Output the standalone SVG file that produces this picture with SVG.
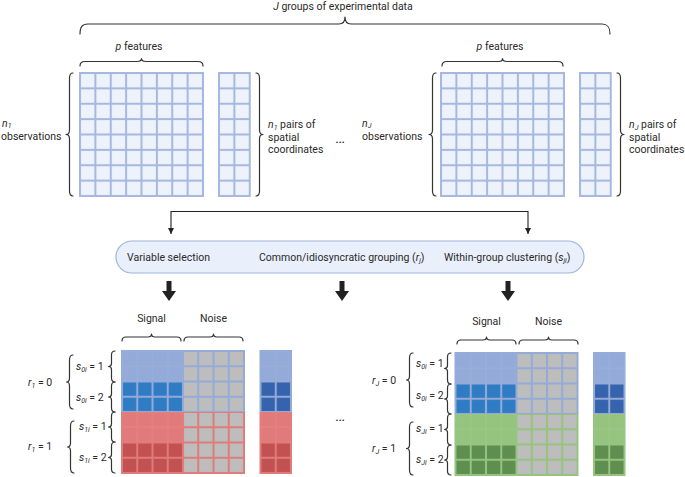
<svg xmlns="http://www.w3.org/2000/svg" width="685" height="477" viewBox="0 0 685 477">
<style>
text{font-family:Roboto,"Liberation Sans",sans-serif;font-size:10.5px;fill:#2a2a2a}
.i{font-style:italic}
.sub{font-size:7px;font-style:italic}
.dots{font-size:15px}
.brace{fill:none;stroke:#333;stroke-width:1.2;stroke-linecap:round;stroke-linejoin:round}
.conn{fill:none;stroke:#222;stroke-width:1.1}
</style>
<defs>
<marker id="ah" viewBox="0 0 6 6" refX="6" refY="3" markerWidth="6" markerHeight="6" markerUnits="userSpaceOnUse" orient="auto-start-reverse"><path d="M0,0 L6,3 L0,6 z" fill="#222"/></marker>
<pattern id="pT" width="15.375" height="15.375" patternUnits="userSpaceOnUse"><rect width="15.375" height="15.375" fill="#a6b8df"/><rect x="1" y="1" width="13.375" height="13.375" fill="#edf2fb"/></pattern>
<pattern id="pTC" width="15.375" height="15.375" patternUnits="userSpaceOnUse"><rect width="15.375" height="15.375" fill="#a6b8df"/><rect x="1" y="1" width="13.375" height="13.375" fill="#edf2fb"/></pattern>
<pattern id="pBL" width="15.25" height="15.25" patternUnits="userSpaceOnUse"><rect width="15.25" height="15.25" fill="#9db1dc"/><rect x="0.4" y="0.4" width="14.45" height="14.45" fill="#94aad8"/></pattern>
<pattern id="pBD" width="15.25" height="15.25" patternUnits="userSpaceOnUse"><rect width="15.25" height="15.25" fill="#94aad8"/><rect x="1" y="1" width="13.25" height="13.25" fill="#2f7cc4"/></pattern>
<pattern id="pBN" width="15.25" height="15.25" patternUnits="userSpaceOnUse"><rect width="15.25" height="15.25" fill="#94aad8"/><rect x="1" y="1" width="13.25" height="13.25" fill="#bdbdbd"/></pattern>
<pattern id="pBC" width="15.25" height="15.25" patternUnits="userSpaceOnUse"><rect width="15.25" height="15.25" fill="#94aad8"/><rect x="1" y="1" width="13.25" height="13.25" fill="#3563ad"/></pattern>
<pattern id="pRL" width="15.25" height="15.25" patternUnits="userSpaceOnUse"><rect width="15.25" height="15.25" fill="#e58686"/><rect x="0.4" y="0.4" width="14.45" height="14.45" fill="#e17b7b"/></pattern>
<pattern id="pRD" width="15.25" height="15.25" patternUnits="userSpaceOnUse"><rect width="15.25" height="15.25" fill="#e17b7b"/><rect x="1" y="1" width="13.25" height="13.25" fill="#c25152"/></pattern>
<pattern id="pRN" width="15.25" height="15.25" patternUnits="userSpaceOnUse"><rect width="15.25" height="15.25" fill="#e17b7b"/><rect x="1" y="1" width="13.25" height="13.25" fill="#bdbdbd"/></pattern>
<pattern id="pGL" width="15.25" height="15.25" patternUnits="userSpaceOnUse"><rect width="15.25" height="15.25" fill="#9ecb89"/><rect x="0.4" y="0.4" width="14.45" height="14.45" fill="#95c47f"/></pattern>
<pattern id="pGD" width="15.25" height="15.25" patternUnits="userSpaceOnUse"><rect width="15.25" height="15.25" fill="#95c47f"/><rect x="1" y="1" width="13.25" height="13.25" fill="#5f8e51"/></pattern>
<pattern id="pGN" width="15.25" height="15.25" patternUnits="userSpaceOnUse"><rect width="15.25" height="15.25" fill="#95c47f"/><rect x="1" y="1" width="13.25" height="13.25" fill="#bdbdbd"/></pattern>
</defs>
<rect width="685" height="477" fill="#ffffff"/>

<g id="title">
<text x="343" y="10" text-anchor="middle"><tspan class="i">J</tspan> groups of experimental data</text>
<path class="brace" d="M80,34 C80,27 82,24 88,24 L339,24 C343,24 345,21 345,17 C345,21 347,24 351,24 L602,24 C608,24 610,27 610,34"/>
</g>

<g id="group-1">
<text x="139" y="50" text-anchor="middle"><tspan class="i">p</tspan> features</text>
<path class="brace" d="M80,66 C80,63 81,61.5 85,61.5 L137,61.5 C140,61.5 141.5,60.5 141.5,58.5 C141.5,60.5 143,61.5 146,61.5 L198,61.5 C202,61.5 203,63 203,66"/>
<g transform="translate(80,73)"><rect x="-1" y="-1" width="125" height="125" fill="#a6b8df"/><rect width="123" height="123" fill="url(#pT)"/></g>
<g transform="translate(219,73)"><rect x="-1" y="-1" width="32.75" height="125" fill="#a6b8df"/><rect width="30.75" height="123" fill="url(#pTC)"/></g>
<path class="brace" d="M73,73 C70,73 69.5,75 69.5,78 L69.5,130 C69.5,133 68,134.5 66,134.5 C68,134.5 69.5,136 69.5,139 L69.5,191 C69.5,194 70,196 73,196"/>
<path class="brace" d="M256,73 C259,73 259.5,75 259.5,78 L259.5,130 C259.5,133 261,134.5 263,134.5 C261,134.5 259.5,136 259.5,139 L259.5,191 C259.5,194 259,196 256,196"/>
<text x="2" y="126.5"><tspan class="i">n</tspan><tspan class="sub" dy="1.5">1</tspan></text>
<text x="1" y="140">observations</text>
<text x="268" y="128"><tspan class="i">n</tspan><tspan class="sub" dy="1.5">1</tspan><tspan dy="-1.5"> pairs of</tspan></text>
<text x="268" y="141">spatial</text>
<text x="268" y="153">coordinates</text>
</g>

<text class="dots" x="335" y="143">…</text>

<g id="group-J">
<text x="500" y="50" text-anchor="middle"><tspan class="i">p</tspan> features</text>
<path class="brace" d="M442,66 C442,63 443,61.5 447,61.5 L499,61.5 C502,61.5 502.5,60.5 502.5,58.5 C502.5,60.5 504,61.5 507,61.5 L558,61.5 C562,61.5 563,63 563,66"/>
<g transform="translate(441,73)"><rect x="-1" y="-1" width="125" height="125" fill="#a6b8df"/><rect width="123" height="123" fill="url(#pT)"/></g>
<g transform="translate(580,73)"><rect x="-1" y="-1" width="32.75" height="125" fill="#a6b8df"/><rect width="30.75" height="123" fill="url(#pTC)"/></g>
<path class="brace" d="M436,73 C433,73 432.5,75 432.5,78 L432.5,130 C432.5,133 431,134.5 429,134.5 C431,134.5 432.5,136 432.5,139 L432.5,191 C432.5,194 433,196 436,196"/>
<path class="brace" d="M617,73 C620,73 620.5,75 620.5,78 L620.5,130 C620.5,133 622,134.5 624,134.5 C622,134.5 620.5,136 620.5,139 L620.5,191 C620.5,194 620,196 617,196"/>
<text x="362" y="126.5"><tspan class="i">n</tspan><tspan class="sub" dy="1.5">J</tspan></text>
<text x="362" y="140">observations</text>
<text x="629" y="128"><tspan class="i">n</tspan><tspan class="sub" dy="1.5">J</tspan><tspan dy="-1.5"> pairs of</tspan></text>
<text x="629" y="141">spatial</text>
<text x="629" y="153">coordinates</text>
</g>

<g id="model">
<rect x="116" y="241" width="468" height="32" rx="16" fill="#e9f0fb" stroke="#9fb4dc" stroke-width="1.2"/>
<text x="127" y="261">Variable selection</text>
<text x="259" y="261">Common/idiosyncratic grouping (<tspan class="i">r</tspan><tspan class="sub" dy="2">j</tspan><tspan dy="-2">)</tspan></text>
<text x="444" y="261">Within-group clustering (<tspan class="i">s</tspan><tspan class="sub" dy="2">ji</tspan><tspan dy="-2">)</tspan></text>
</g>

<g id="connectors">
<path class="conn" d="M171,234 L171,211.5 L528,211.5 L528,234" marker-start="url(#ah)" marker-end="url(#ah)"/>
<path d="M166.5,281 h5 v10 h4.5 l-7,10 l-7,-10 h4.5 z" fill="#222"/>
<path d="M339.5,281 h5 v10 h4.5 l-7,10 l-7,-10 h4.5 z" fill="#222"/>
<path d="M505.5,281 h5 v10 h4.5 l-7,10 l-7,-10 h4.5 z" fill="#222"/>
</g>

<g id="result-1">
<text x="151.5" y="322" text-anchor="middle">Signal</text>
<text x="213.5" y="322" text-anchor="middle">Noise</text>
<path class="brace" d="M122,341 C122,338 123,337 126,337 L148,337 C150.5,337 151.5,336 151.5,334 C151.5,336 152.5,337 155,337 L177,337 C180,337 181,338 181,341"/>
<path class="brace" d="M184,341 C184,338 185,337 188,337 L210,337 C212.5,337 213.5,336 213.5,334 C213.5,336 214.5,337 217,337 L239,337 C242,337 243,338 243,341"/>
<g transform="translate(122,351)">
<rect x="-1" y="-1" width="124" height="62" fill="#94aad8"/>
<rect x="-1" y="61" width="124" height="62" fill="#e17b7b"/>
<rect width="61" height="30.5" fill="url(#pBL)"/>
<rect y="30.5" width="61" height="30.5" fill="url(#pBD)"/>
<rect x="61" width="61" height="61" fill="url(#pBN)"/>
<rect y="61" width="61" height="30.5" fill="url(#pRL)"/>
<rect y="91.5" width="61" height="30.5" fill="url(#pRD)"/>
<rect x="61" y="61" width="61" height="61" fill="url(#pRN)"/>
</g>
<g transform="translate(260.5,351)">
<rect x="-1" y="-1" width="32.5" height="62" fill="#94aad8"/>
<rect x="-1" y="61" width="32.5" height="62" fill="#e17b7b"/>
<rect width="30.5" height="30.5" fill="url(#pBL)"/>
<rect y="30.5" width="30.5" height="30.5" fill="url(#pBC)"/>
<rect y="61" width="30.5" height="30.5" fill="url(#pRL)"/>
<rect y="91.5" width="30.5" height="30.5" fill="url(#pRD)"/>
</g>
<path class="brace" d="M73,355 C70,355 69.5,357 69.5,360 L69.5,378 C69.5,380.5 68.5,382 66.5,382 C68.5,382 69.5,383.5 69.5,386 L69.5,404 C69.5,407 70,409 73,409"/>
<path class="brace" d="M74,421 C71,421 70.5,423 70.5,426 L70.5,443 C70.5,445.5 69.5,447 67.5,447 C69.5,447 70.5,448.5 70.5,451 L70.5,468 C70.5,471 71,473 74,473"/>
<path class="brace" d="M115,351 C112.5,351 111.5,352.5 111.5,355 L111.5,363.5 C111.5,365.5 110.5,366.5 108.5,366.5 C110.5,366.5 111.5,367.5 111.5,369.5 L111.5,378 C111.5,380.5 112.5,382 115,382"/>
<path class="brace" d="M115,382 C112.5,382 111.5,383.5 111.5,386 L111.5,394 C111.5,396 110.5,397 108.5,397 C110.5,397 111.5,398 111.5,400 L111.5,408 C111.5,410.5 112.5,412 115,412"/>
<path class="brace" d="M115,412 C112.5,412 111.5,413.5 111.5,416 L111.5,424 C111.5,426 110.5,427 108.5,427 C110.5,427 111.5,428 111.5,430 L111.5,438 C111.5,440.5 112.5,442 115,442"/>
<path class="brace" d="M115,442 C112.5,442 111.5,443.5 111.5,446 L111.5,454.5 C111.5,456.5 110.5,457.5 108.5,457.5 C110.5,457.5 111.5,458.5 111.5,460.5 L111.5,469 C111.5,471.5 112.5,473 115,473"/>
<text x="28" y="386"><tspan class="i">r</tspan><tspan class="sub" dy="2">1</tspan><tspan dy="-2"> = 0</tspan></text>
<text x="28" y="450"><tspan class="i">r</tspan><tspan class="sub" dy="2">1</tspan><tspan dy="-2"> = 1</tspan></text>
<text x="76" y="370"><tspan class="i">s</tspan><tspan class="sub" dy="2">0i</tspan><tspan dy="-2"> = 1</tspan></text>
<text x="76" y="401"><tspan class="i">s</tspan><tspan class="sub" dy="2">0i</tspan><tspan dy="-2"> = 2</tspan></text>
<text x="79" y="430"><tspan class="i">s</tspan><tspan class="sub" dy="2">1i</tspan><tspan dy="-2"> = 1</tspan></text>
<text x="79" y="461"><tspan class="i">s</tspan><tspan class="sub" dy="2">1i</tspan><tspan dy="-2"> = 2</tspan></text>
</g>

<text class="dots" x="335" y="421">…</text>

<g id="result-J">
<text x="486.5" y="325" text-anchor="middle">Signal</text>
<text x="548.5" y="325" text-anchor="middle">Noise</text>
<path class="brace" d="M457,344 C457,341 458,340 461,340 L483,340 C485.5,340 486.5,339 486.5,337 C486.5,339 487.5,340 490,340 L512,340 C515,340 516,341 516,344"/>
<path class="brace" d="M519,344 C519,341 520,340 523,340 L545,340 C547.5,340 548.5,339 548.5,337 C548.5,339 549.5,340 552,340 L574,340 C577,340 578,341 578,344"/>
<g transform="translate(455.5,353)">
<rect x="-1" y="-1" width="124" height="62" fill="#94aad8"/>
<rect x="-1" y="61" width="124" height="62" fill="#95c47f"/>
<rect width="61" height="30.5" fill="url(#pBL)"/>
<rect y="30.5" width="61" height="30.5" fill="url(#pBD)"/>
<rect x="61" width="61" height="61" fill="url(#pBN)"/>
<rect y="61" width="61" height="30.5" fill="url(#pGL)"/>
<rect y="91.5" width="61" height="30.5" fill="url(#pGD)"/>
<rect x="61" y="61" width="61" height="61" fill="url(#pGN)"/>
</g>
<g transform="translate(594,353)">
<rect x="-1" y="-1" width="32.5" height="62" fill="#94aad8"/>
<rect x="-1" y="61" width="32.5" height="62" fill="#95c47f"/>
<rect width="30.5" height="30.5" fill="url(#pBL)"/>
<rect y="30.5" width="30.5" height="30.5" fill="url(#pBC)"/>
<rect y="61" width="30.5" height="30.5" fill="url(#pGL)"/>
<rect y="91.5" width="30.5" height="30.5" fill="url(#pGD)"/>
</g>
<path class="brace" d="M413,353 C410,353 409.5,355 409.5,358 L409.5,376 C409.5,378.5 408.5,380 406.5,380 C408.5,380 409.5,381.5 409.5,384 L409.5,402 C409.5,405 410,407 413,407"/>
<path class="brace" d="M413,422 C410,422 409.5,424 409.5,427 L409.5,444.5 C409.5,447 408.5,448.5 406.5,448.5 C408.5,448.5 409.5,450 409.5,452.5 L409.5,470 C409.5,473 410,475 413,475"/>
<path class="brace" d="M451,353 C448.5,353 447.5,354.5 447.5,357 L447.5,365.5 C447.5,367.5 446.5,368.5 444.5,368.5 C446.5,368.5 447.5,369.5 447.5,371.5 L447.5,380 C447.5,382.5 448.5,384 451,384"/>
<path class="brace" d="M451,384 C448.5,384 447.5,385.5 447.5,388 L447.5,396 C447.5,398 446.5,399 444.5,399 C446.5,399 447.5,400 447.5,402 L447.5,410 C447.5,412.5 448.5,414 451,414"/>
<path class="brace" d="M451,414 C448.5,414 447.5,415.5 447.5,418 L447.5,426.5 C447.5,428.5 446.5,429.5 444.5,429.5 C446.5,429.5 447.5,430.5 447.5,432.5 L447.5,441 C447.5,443.5 448.5,445 451,445"/>
<path class="brace" d="M451,445 C448.5,445 447.5,446.5 447.5,449 L447.5,457 C447.5,459 446.5,460 444.5,460 C446.5,460 447.5,461 447.5,463 L447.5,471 C447.5,473.5 448.5,475 451,475"/>
<text x="372" y="384"><tspan class="i">r</tspan><tspan class="sub" dy="2">J</tspan><tspan dy="-2"> = 0</tspan></text>
<text x="372" y="452"><tspan class="i">r</tspan><tspan class="sub" dy="2">J</tspan><tspan dy="-2"> = 1</tspan></text>
<text x="416" y="367"><tspan class="i">s</tspan><tspan class="sub" dy="2">0i</tspan><tspan dy="-2"> = 1</tspan></text>
<text x="416" y="399"><tspan class="i">s</tspan><tspan class="sub" dy="2">0i</tspan><tspan dy="-2"> = 2</tspan></text>
<text x="416" y="432"><tspan class="i">s</tspan><tspan class="sub" dy="2">Ji</tspan><tspan dy="-2"> = 1</tspan></text>
<text x="416" y="463"><tspan class="i">s</tspan><tspan class="sub" dy="2">Ji</tspan><tspan dy="-2"> = 2</tspan></text>
</g>
</svg>
